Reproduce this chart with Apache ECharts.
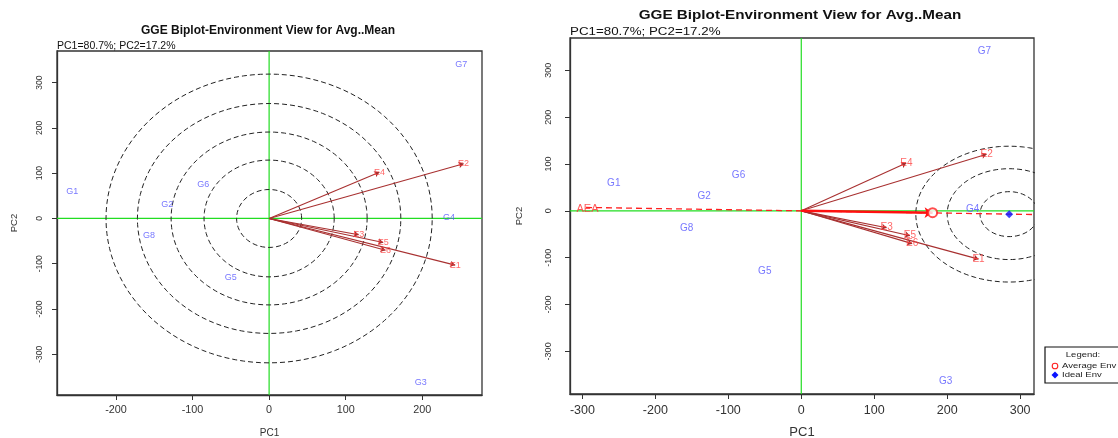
<!DOCTYPE html>
<html><head><meta charset="utf-8">
<script src="https://cdn.jsdelivr.net/npm/echarts@6/dist/echarts.min.js"></script>
<style>html,body{margin:0;padding:0;background:#fff}#c{width:1118px;height:438px}</style>
</head><body><div id="c"></div>
<script>
// ---- data ----
const genNames = ['G1','G2','G3','G4','G5','G6','G7','G8'];
const genPC1   = [-257, -133, 198, 235, -50, -86, 251, -157];
const genPC2   = [59, 31, -363, 3, -130, 75, 340, -37];

const envNames = ['E1','E2','E3','E4','E5','E6'];
const envPC1   = [243, 254, 117, 144, 149, 152];
const envPC2   = [-103, 121, -36, 102, -53, -70];

const xTicksLeft  = [-200, -100, 0, 100, 200];
const xTicksRight = [-300, -200, -100, 0, 100, 200, 300];
const yTicks      = [-300, -200, -100, 0, 100, 200, 300];

// concentric rings (left panel, centred at origin): x / y radii in data units
const leftRingRx = [42.5, 85, 128, 172, 213];
const leftRingRy = [64, 129, 191, 254, 319];

// right panel: average environment axis
const avgEnv   = [180, -4];
const idealEnv = [285, -7];
const aeaLabelPos = [-293, 4];
const aeaLineX = [-295, 330];
const rightRingRx = [40, 85, 128];
const rightRingRy = [48, 97, 145];

const titleText = 'GGE Biplot-Environment View for Avg..Mean';
const subText = 'PC1=80.7%; PC2=17.2%';

// ---- helpers ----
const FONT = '"Liberation Sans", Arial, sans-serif';
const xRanges = [[-277, 278], [-317, 319]];
const yRanges = [[-390, 370], [-391, 369]];

function ellipse(cx, cy, rx, ry) {
  const pts = [];
  for (let a = 0; a <= 360; a += 3) {
    const t = a * Math.PI / 180;
    pts.push([cx + rx * Math.cos(t), cy + ry * Math.sin(t)]);
  }
  return pts;
}

function xAxisCfg(i, ticks, fs, nfs, nameGap) {
  return {
    type: 'value', gridIndex: i, min: xRanges[i][0], max: xRanges[i][1],
    name: 'PC1', nameLocation: 'middle', nameGap: nameGap,
    nameTextStyle: {fontFamily: FONT, fontSize: nfs, color: '#333'},
    splitLine: {show: false},
    axisLine: {show: true, onZero: false, lineStyle: {color: '#333', width: 1.3}},
    axisTick: {show: true, length: 5, customValues: ticks, lineStyle: {color: '#333'}},
    axisLabel: {customValues: ticks, fontFamily: FONT, fontSize: fs, color: '#333', margin: 10,
                showMinLabel: true, showMaxLabel: true}
  };
}
function yAxisCfg(i, fs, margin, nameGap) {
  return {
    type: 'value', gridIndex: i, min: yRanges[i][0], max: yRanges[i][1],
    name: 'PC2', nameLocation: 'middle', nameGap: nameGap, nameRotate: 90,
    nameTextStyle: {fontFamily: FONT, fontSize: 9.5, color: '#333'},
    splitLine: {show: false},
    axisLine: {show: true, onZero: false, lineStyle: {color: '#333', width: 1.3}},
    axisTick: {show: true, length: 5, customValues: yTicks, lineStyle: {color: '#333'}},
    axisLabel: {customValues: yTicks, rotate: 90, fontFamily: FONT, fontSize: fs, color: '#333', margin: margin}
  };
}

function greenLines(i) {
  return [
    {type: 'line', xAxisIndex: i, yAxisIndex: i, data: [[0, yRanges[i][0]], [0, yRanges[i][1]]],
     showSymbol: false, silent: true, z: 1, lineStyle: {color: '#22dd22', width: 1.2}},
    {type: 'line', xAxisIndex: i, yAxisIndex: i, data: [[xRanges[i][0], 0], [xRanges[i][1], 0]],
     showSymbol: false, silent: true, z: 1, lineStyle: {color: '#22dd22', width: 1.2}}
  ];
}
function rings(i, cx, cy, rxs, rys) {
  return rxs.map((rx, k) => ({
    type: 'line', xAxisIndex: i, yAxisIndex: i, data: ellipse(cx, cy, rx, rys[k]),
    showSymbol: false, silent: true, z: 2, clip: true,
    lineStyle: {color: '#222', width: 1, type: [5, 3]}
  }));
}
function envArrows(i) {
  return {
    type: 'lines', coordinateSystem: 'cartesian2d', xAxisIndex: i, yAxisIndex: i, z: 3,
    symbol: ['none', 'arrow'], symbolSize: 5,
    lineStyle: {color: '#a83030', width: 1.1, opacity: 1},
    data: envNames.map((n, k) => ({coords: [[0, 0], [envPC1[k], envPC2[k]]]}))
  };
}
function labels(i, names, xs, ys, color, fs) {
  return {
    type: 'scatter', xAxisIndex: i, yAxisIndex: i, z: 5, symbolSize: 1,
    itemStyle: {color: 'rgba(0,0,0,0)'},
    label: {show: true, position: 'inside', formatter: '{b}', color: color, fontFamily: FONT, fontSize: fs},
    data: names.map((n, k) => ({name: n, value: [xs[k], ys[k]]}))
  };
}

const k = idealEnv[1] / idealEnv[0];

const series = [
  // left panel
  ...greenLines(0),
  ...rings(0, 0, 0, leftRingRx, leftRingRy),
  envArrows(0),
  labels(0, envNames, envPC1, envPC2, '#ff4040', 9),
  labels(0, genNames, genPC1, genPC2, '#5555ff', 9),
  // right panel
  ...greenLines(1),
  {type: 'line', xAxisIndex: 1, yAxisIndex: 1, z: 3, showSymbol: false, silent: true, clip: true,
   data: [[aeaLineX[0], aeaLineX[0] * k], [aeaLineX[1], aeaLineX[1] * k]],
   lineStyle: {color: '#ff2020', width: 1.3, type: [6, 4]}},
  ...rings(1, idealEnv[0], idealEnv[1], rightRingRx, rightRingRy),
  envArrows(1),
  {type: 'lines', coordinateSystem: 'cartesian2d', xAxisIndex: 1, yAxisIndex: 1, z: 4,
   symbol: ['none', 'arrow'], symbolSize: 8,
   lineStyle: {color: '#ff1010', width: 2.5, opacity: 1},
   data: [{coords: [[0, 0], avgEnv]}]},
  {type: 'scatter', xAxisIndex: 1, yAxisIndex: 1, z: 6, symbol: 'emptyCircle', symbolSize: 9,
   itemStyle: {color: '#ff2020', borderWidth: 1.3}, data: [avgEnv]},
  {type: 'scatter', xAxisIndex: 1, yAxisIndex: 1, z: 6, symbol: 'diamond', symbolSize: 8,
   itemStyle: {color: '#0a14ff'}, data: [idealEnv]},
  labels(1, envNames, envPC1, envPC2, '#ff4040', 10),
  labels(1, genNames, genPC1, genPC2, '#5555ff', 10),
  labels(1, ['AEA'], [aeaLabelPos[0]], [aeaLabelPos[1]], '#ff3030', 11)
];

const chart = echarts.init(document.getElementById('c'), null, {renderer: 'canvas'});
chart.setOption({
  animation: false,
  backgroundColor: '#fff',
  grid: [
    {left: 57, top: 51, width: 425, height: 344, show: true, borderColor: '#333', borderWidth: 1.3, backgroundColor: 'transparent', containLabel: false, outerBoundsMode: 'none'},
    {left: 570, top: 38, width: 464, height: 356, show: true, borderColor: '#333', borderWidth: 1.3, backgroundColor: 'transparent', containLabel: false, outerBoundsMode: 'none'}
  ],
  xAxis: [xAxisCfg(0, xTicksLeft, 10.8, 10, 33), xAxisCfg(1, xTicksRight, 12.5, 13, 32)],
  yAxis: [yAxisCfg(0, 8.5, 13, 38), yAxisCfg(1, 9, 17, 46)],
  series: series,
  graphic: [
    {type: 'text', x: 268, y: 31, silent: true,
     style: {text: titleText, fontFamily: FONT, fontSize: 12, fontWeight: 'bold', fill: '#111', align: 'center', verticalAlign: 'middle'}},
    {type: 'text', x: 57, y: 46.5, silent: true,
     style: {text: subText, fontFamily: FONT, fontSize: 10.5, fill: '#111', align: 'left', verticalAlign: 'middle'}},
    {type: 'text', x: 800, y: 16, scaleX: 1.27, silent: true,
     style: {text: titleText, fontFamily: FONT, fontSize: 12, fontWeight: 'bold', fill: '#111', align: 'center', verticalAlign: 'middle'}},
    {type: 'text', x: 570, y: 32.5, scaleX: 1.27, silent: true,
     style: {text: subText, fontFamily: FONT, fontSize: 10.5, fill: '#111', align: 'left', verticalAlign: 'middle'}},
    // legend box (right edge, cut by the image border)
    {type: 'rect', shape: {x: 1045, y: 347, width: 90, height: 36}, silent: true,
     style: {fill: '#fff', stroke: '#111', lineWidth: 1.2}},
    {type: 'text', x: 1083, y: 355, scaleX: 1.27, silent: true,
     style: {text: 'Legend:', fontFamily: FONT, fontSize: 7.5, fill: '#222', align: 'center', verticalAlign: 'middle'}},
    {type: 'circle', shape: {cx: 1055, cy: 366, r: 2.8}, silent: true,
     style: {fill: 'none', stroke: '#ff2020', lineWidth: 1.1}},
    {type: 'text', x: 1062, y: 366, scaleX: 1.27, silent: true,
     style: {text: 'Average Env', fontFamily: FONT, fontSize: 7.5, fill: '#222', align: 'left', verticalAlign: 'middle'}},
    {type: 'polygon', shape: {points: [[1055, 371.5], [1058.5, 375], [1055, 378.5], [1051.5, 375]]}, silent: true,
     style: {fill: '#0a14ff'}},
    {type: 'text', x: 1062, y: 375, scaleX: 1.27, silent: true,
     style: {text: 'Ideal Env', fontFamily: FONT, fontSize: 7.5, fill: '#222', align: 'left', verticalAlign: 'middle'}}
  ]
});
</script>
</body></html>
